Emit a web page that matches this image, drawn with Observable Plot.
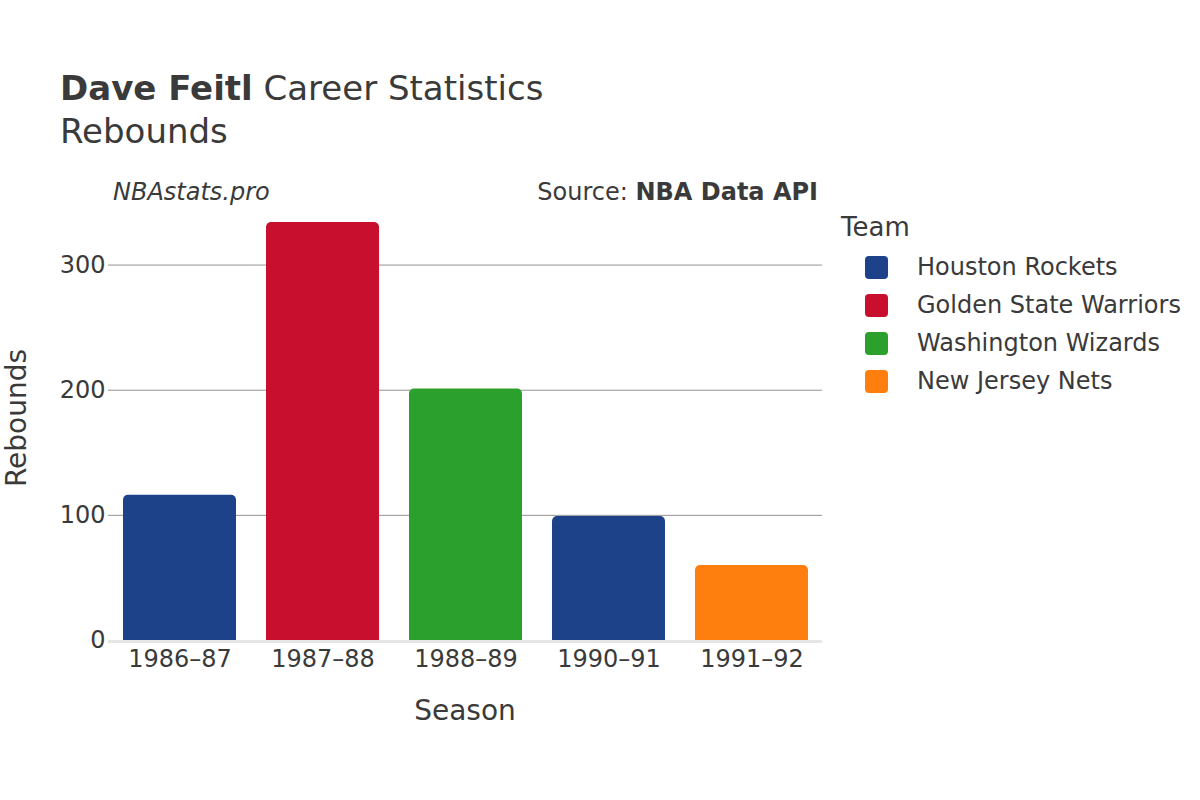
<!DOCTYPE html>
<html>
<head>
<meta charset="utf-8">
<script src="https://cdn.jsdelivr.net/npm/d3@7"></script>
<script src="https://cdn.jsdelivr.net/npm/@observablehq/plot@0.6"></script>
<style>
  html, body { margin: 0; padding: 0; background: #fff; }
  #wrap { position: relative; width: 1200px; height: 800px; font-family: "DejaVu Sans", sans-serif; color: #3a3a3a; overflow: hidden; }
  #wrap svg { position: absolute; left: 0; top: 0; }
  .t { position: absolute; line-height: 1; white-space: nowrap; }
</style>
</head>
<body>
<div id="wrap"></div>
<script>
// ---- data ----
const seasons = ["1986–87", "1987–88", "1988–89", "1990–91", "1991–92"];
const seasonTeams = ["Houston Rockets", "Golden State Warriors", "Washington Wizards", "Houston Rockets", "New Jersey Nets"];
const rebounds = [116, 334, 201, 99, 60];
const legendTeams = ["Houston Rockets", "Golden State Warriors", "Washington Wizards", "New Jersey Nets"];
const teamColors = ["#1d428a", "#c8102e", "#2ca02c", "#ff7f0e"];
const yTicks = [0, 100, 200, 300];
const gridTicks = [100, 200, 300];

const rows = seasons.map((s, i) => ({season: s, team: seasonTeams[i], value: rebounds[i]}));

const wrap = document.getElementById("wrap");

const chart = Plot.plot({
  width: 1200,
  height: 800,
  marginLeft: 108,
  marginRight: 378,
  marginTop: 200,
  marginBottom: 160,
  style: {fontFamily: "DejaVu Sans, sans-serif", color: "#3a3a3a", background: "transparent"},
  x: {domain: seasons, paddingInner: 0.21, paddingOuter: 0.1, label: null},
  y: {domain: [0, 351.6], label: null},
  color: {domain: legendTeams, range: teamColors},
  marks: [
    Plot.ruleY(gridTicks, {stroke: "#939393", strokeWidth: 1}),
    Plot.ruleY([0], {stroke: "#e6e6e6", strokeWidth: 3, dy: 1}),
    Plot.barY(rows, {x: "season", y: "value", fill: "team", ry1: 5}),
    Plot.axisX({tickSize: 0, tickPadding: 9, fontSize: 24, label: null}),
    Plot.axisY(yTicks, {tickSize: 0, tickPadding: 3, fontSize: 24, label: null})
  ]
});
wrap.appendChild(chart);

function addText(txt, {x, baseline, size, anchor = "start", weight = "normal", style = "normal", html = false}) {
  const d = document.createElement("div");
  d.className = "t";
  if (html) d.innerHTML = txt; else d.textContent = txt;
  d.style.fontSize = size + "px";
  d.style.fontWeight = weight;
  d.style.fontStyle = style;
  d.style.top = (baseline - 0.846 * size) + "px";
  if (anchor === "start") d.style.left = x + "px";
  else if (anchor === "end") d.style.right = (1200 - x) + "px";
  else { d.style.left = x + "px"; d.style.transform = "translateX(-50%)"; }
  wrap.appendChild(d);
  return d;
}

// titles
addText("<b>Dave Feitl</b> Career Statistics", {x: 60, baseline: 100, size: 34, html: true});
addText("Rebounds", {x: 60, baseline: 143, size: 34});
addText("NBAstats.pro", {x: 113, baseline: 200, size: 24, style: "italic"});
addText("Source: <b>NBA Data API</b>", {x: 818, baseline: 200, size: 24, anchor: "end", html: true});

// axis titles
addText("Season", {x: 465, baseline: 721, size: 28, anchor: "middle"});
const yl = document.createElement("div");
yl.className = "t";
yl.textContent = "Rebounds";
yl.style.fontSize = "28px";
yl.style.left = "17px";
yl.style.top = "418px";
yl.style.transform = "translate(-50%, -50%) rotate(-90deg)";
wrap.appendChild(yl);

// legend
addText("Team", {x: 841, baseline: 236, size: 26});
legendTeams.forEach((team, i) => {
  const sw = document.createElement("div");
  sw.style.position = "absolute";
  sw.style.left = "865px";
  sw.style.top = (267 + 38 * i - 11.5) + "px";
  sw.style.width = "23px";
  sw.style.height = "23px";
  sw.style.borderRadius = "4px";
  sw.style.background = teamColors[i];
  wrap.appendChild(sw);
  addText(team, {x: 917, baseline: 275 + 38 * i, size: 24});
});
</script>
</body>
</html>
